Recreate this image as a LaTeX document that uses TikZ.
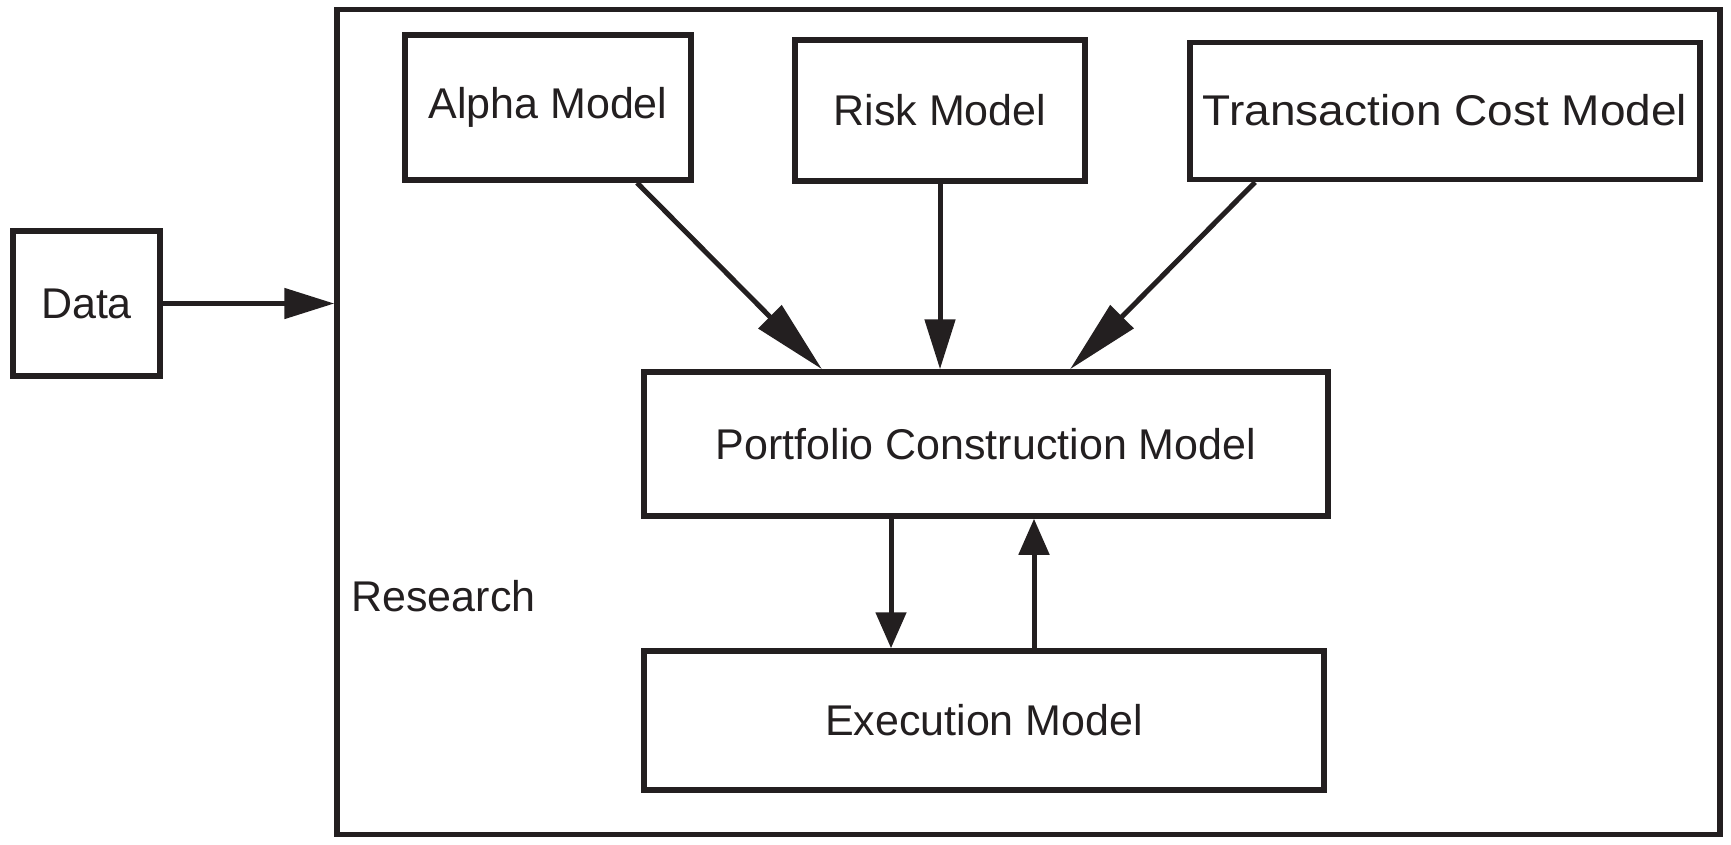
\documentclass[tikz,border=0pt]{standalone}
\usepackage{fontspec}
\setmainfont{Liberation Sans}
\usetikzlibrary{arrows.meta}
\definecolor{ink}{HTML}{231F20}
\begin{document}
\begin{tikzpicture}[x=1pt,y=-1pt,
  box/.style={draw=ink,line width=5.5pt,inner sep=0pt,text=ink,align=center,
    font=\fontsize{43}{50}\selectfont},
  conn/.style={draw=ink,line width=5pt},
  bighead/.style={-{Triangle[length=74pt,width=32pt]}},
  midhead/.style={-{Triangle[length=50pt,width=30pt]}},
  smallhead/.style={-{Triangle[length=36pt,width=30pt]}}]
\useasboundingbox (0,0) rectangle (1731,844);
\node[box,minimum width=1383pt,minimum height=825pt] (research) at (1028.5,422) {};
\node[anchor=base west,text=ink,font=\fontsize{43}{50}\selectfont] (rlabel) at (348,611) {Research};
\node[box,minimum width=147pt,minimum height=145pt] (data) at (86.5,303.5) {Data};
\node[box,minimum width=286pt,minimum height=145pt] (alpha) at (548,107.5) {Alpha Model};
\node[box,minimum width=290pt,minimum height=141pt] (risk) at (940,110.5) {Risk Model};
\node[box,minimum width=510pt,minimum height=137pt] (tc) at (1445,111) {\raisebox{2pt}{\scalebox{1.07}[1]{Transaction Cost Model}}};
\node[box,minimum width=684pt,minimum height=144pt] (pcm) at (986,444) {Portfolio Construction Model};
\node[box,minimum width=680pt,minimum height=139pt] (exec) at (984,720.5) {Execution Model};
\draw[conn,midhead] (data.east) -- (research.west |- data.east);
\draw[conn,bighead] ([xshift=89pt]alpha.south) -- ([xshift=-164pt]pcm.north);
\draw[conn,midhead] (risk.south) -- (risk.south |- pcm.north);
\draw[conn,bighead] ([xshift=-190pt]tc.south) -- ([xshift=84pt]pcm.north);
\draw[conn,smallhead] ([xshift=-95pt]pcm.south) -- ([xshift=-95pt]pcm.south |- exec.north);
\draw[conn,smallhead] ([xshift=48pt]pcm.south |- exec.north) -- ([xshift=48pt]pcm.south);
\end{tikzpicture}
\end{document}
